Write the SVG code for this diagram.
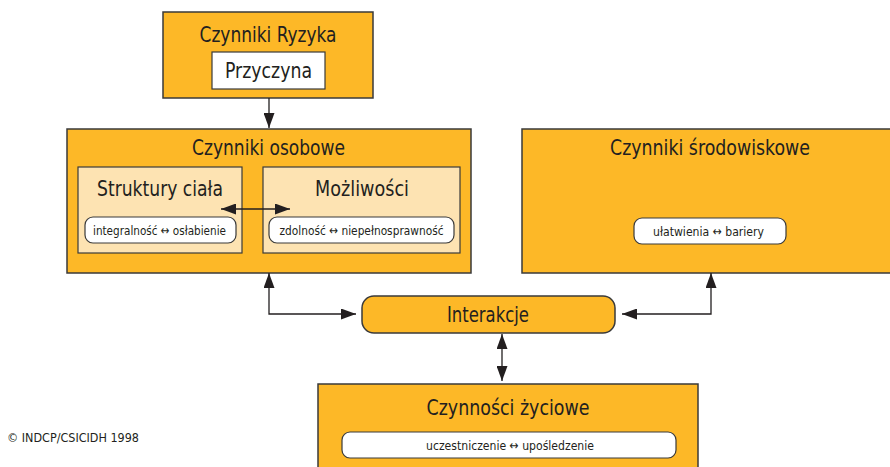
<svg xmlns="http://www.w3.org/2000/svg" width="890" height="467" viewBox="0 0 890 467">
<style>
.box{fill:#FDB827;stroke:#3a3a3a;stroke-width:1.5}
.inner{fill:#FDE3B2;stroke:#3a3a3a;stroke-width:1.2}
.white{fill:#ffffff;stroke:#3a3a3a;stroke-width:1.2}
.t{font-family:"DejaVu Sans Condensed","DejaVu Sans",sans-serif;fill:#231f20;text-anchor:middle}
.big{font-size:20.5px}
.small{font-size:13px}
.line{fill:none;stroke:#231f20;stroke-width:1.3}
</style>
<defs>
<marker id="ah" viewBox="0 0 15 11" refX="15" refY="5.5" markerWidth="15" markerHeight="11" markerUnits="userSpaceOnUse" orient="auto-start-reverse">
<path d="M0,0 L15,5.5 L0,11 Z" fill="#231f20"/>
</marker>
</defs>
<rect width="890" height="467" fill="#ffffff"/>
<g id="czynniki-ryzyka">
<rect class="box" x="163" y="12" width="210" height="86"/>
<text class="t big" x="268" y="42" textLength="137" lengthAdjust="spacingAndGlyphs">Czynniki Ryzyka</text>
<rect class="white" x="212" y="52" width="113" height="37"/>
<text class="t big" x="268.5" y="78" textLength="87" lengthAdjust="spacingAndGlyphs">Przyczyna</text>
</g>
<g id="czynniki-osobowe">
<rect class="box" x="67" y="129" width="404" height="144"/>
<text class="t big" x="268.5" y="155" textLength="153" lengthAdjust="spacingAndGlyphs">Czynniki osobowe</text>
</g>
<g id="struktury-ciala">
<rect class="inner" x="78" y="167" width="164" height="86"/>
<text class="t big" x="160" y="196" textLength="126" lengthAdjust="spacingAndGlyphs">Struktury ciała</text>
<rect class="white" x="85" y="217" width="151" height="26" rx="8"/>
<text class="t small" x="159.5" y="235" textLength="133" lengthAdjust="spacingAndGlyphs">integralność ↔ osłabienie</text>
</g>
<g id="mozliwosci">
<rect class="inner" x="263" y="167" width="197" height="86"/>
<text class="t big" x="362" y="196" textLength="94" lengthAdjust="spacingAndGlyphs">Możliwości</text>
<rect class="white" x="269" y="217" width="185" height="26" rx="8"/>
<text class="t small" x="361.5" y="235" textLength="164" lengthAdjust="spacingAndGlyphs">zdolność ↔ niepełnosprawność</text>
</g>
<g id="czynniki-srodowiskowe">
<rect class="box" x="522" y="129" width="380" height="144"/>
<text class="t big" x="710" y="155" textLength="200" lengthAdjust="spacingAndGlyphs">Czynniki środowiskowe</text>
<rect class="white" x="634" y="218" width="152" height="26" rx="8"/>
<text class="t small" x="708.5" y="236" textLength="111" lengthAdjust="spacingAndGlyphs">ułatwienia ↔ bariery</text>
</g>
<g id="interakcje">
<rect class="box" x="362" y="296" width="253" height="37" rx="12"/>
<text class="t big" x="488" y="322" textLength="82" lengthAdjust="spacingAndGlyphs">Interakcje</text>
</g>
<g id="czynnosci-zyciowe">
<rect class="box" x="318" y="384" width="380" height="90"/>
<text class="t big" x="508" y="415" textLength="163" lengthAdjust="spacingAndGlyphs">Czynności życiowe</text>
<rect class="white" x="342" y="432" width="334" height="26" rx="8"/>
<text class="t small" x="510" y="450" textLength="168" lengthAdjust="spacingAndGlyphs">uczestniczenie ↔ upośledzenie</text>
</g>
<g id="copyright">
<text class="t" style="font-size:11.5px;text-anchor:start" x="7" y="442" textLength="132" lengthAdjust="spacingAndGlyphs">© INDCP/CSICIDH 1998</text>
</g>
<g id="connectors">
<path class="line" d="M269,98 L269,128" marker-end="url(#ah)"/>
<path class="line" d="M221,209 L290,209" marker-start="url(#ah)" marker-end="url(#ah)"/>
<path class="line" d="M269,273 L269,314 L356,314" marker-start="url(#ah)" marker-end="url(#ah)"/>
<path class="line" d="M711,273 L711,314 L622,314" marker-start="url(#ah)" marker-end="url(#ah)"/>
<path class="line" d="M502,334 L502,381" marker-start="url(#ah)" marker-end="url(#ah)"/>
</g>
</svg>
